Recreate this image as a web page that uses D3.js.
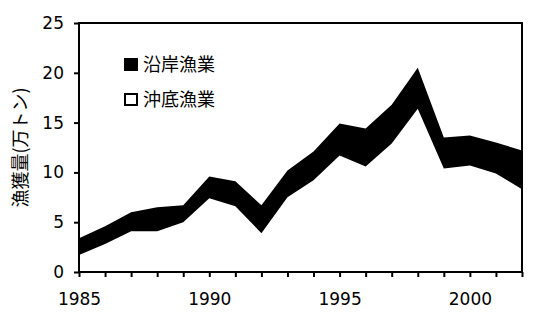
<!DOCTYPE html>
<meta charset="utf-8">
<head>
	<title>漁獲量</title>
	<style>
		body { margin: 0; background: #FFFFFF; }
		svg { display: block; }
		.tick text { font: 17px "DejaVu Sans", sans-serif; fill: #000; }
		.jp { font-family: "Noto Sans CJK JP", sans-serif; fill: #000; }
	</style>
	<script src="https://d3js.org/d3.v7.min.js"></script>
</head>
<body>
	<div id="chart"></div>
	<script>
		// values (万トン)
		const years = [1985,1986,1987,1988,1989,1990,1991,1992,1993,1994,1995,1996,1997,1998,1999,2000,2001,2002];
		const okisoko = [1.7,2.8,4.1,4.1,5.0,7.4,6.6,3.9,7.5,9.2,11.7,10.6,12.9,16.4,10.4,10.7,9.9,8.3];
		const engan = [1.7,1.8,1.9,2.4,1.7,2.2,2.5,2.8,2.7,2.9,3.2,3.8,3.9,4.1,3.1,3.0,3.1,3.9];
		const yTicks = [0,5,10,15,20,25];
		const xTicks = [1985,1990,1995,2000];
		const seriesNames = ['沿岸漁業','沖底漁業'];

		const W = 540, H = 317;
		const M = {left: 79, right: 18, top: 23, bottom: 45};

		const svg = d3.select('#chart').append('svg').attr('width', W).attr('height', H);

		const x = d3.scaleLinear().domain([1985, 2002]).range([M.left, W - M.right]);
		const y = d3.scaleLinear().domain([0, 25]).range([H - M.bottom, M.top]);

		const rows = years.map((yr, i) => ({year: yr, okisoko: okisoko[i], engan: engan[i]}));
		const stack = d3.stack().keys(['okisoko', 'engan'])(rows);

		const area = d3.area()
			.x(d => x(d.data.year))
			.y0(d => y(d[0]))
			.y1(d => y(d[1]));

		svg.append('g').selectAll('path').data(stack).join('path')
			.attr('d', area)
			.attr('fill', d => d.key === 'engan' ? '#000' : '#FFF')
			.attr('stroke', 'none');

		// frame
		svg.append('rect')
			.attr('x', x(1985)).attr('y', y(25))
			.attr('width', x(2002) - x(1985)).attr('height', y(0) - y(25))
			.attr('fill', 'none').attr('stroke', '#000').attr('stroke-width', 2);

		const yAxis = svg.append('g').attr('transform', `translate(${x(1985)},0)`)
			.call(d3.axisLeft(y).tickValues(yTicks).tickSize(5).tickPadding(10));
		const xAxis = svg.append('g').attr('transform', `translate(0,${y(0)})`)
			.call(d3.axisBottom(x).tickValues(years).tickSize(5).tickPadding(16)
				.tickFormat(d => xTicks.includes(d) ? d : ''));
		[yAxis, xAxis].forEach(a => {
			a.select('.domain').remove();
			a.selectAll('.tick line').attr('stroke', '#000').attr('stroke-width', 2);
		});

		svg.append('text').attr('class', 'jp')
			.attr('transform', `translate(27,${(y(0) + y(25)) / 2}) rotate(-90)`)
			.attr('text-anchor', 'middle').attr('font-size', 18)
			.text('漁獲量(万トン)');

		// legend
		const leg = svg.append('g').attr('transform', 'translate(124,58)');
		seriesNames.forEach((name, i) => {
			leg.append('rect').attr('x', 1).attr('y', i * 35 + 1).attr('width', 12).attr('height', 11)
				.attr('fill', i === 0 ? '#000' : '#FFF').attr('stroke', '#000').attr('stroke-width', 2);
			leg.append('text').attr('class', 'jp').attr('x', 19).attr('y', i * 35 + 13)
				.attr('font-size', 18).text(name);
		});
	</script>
</body>
